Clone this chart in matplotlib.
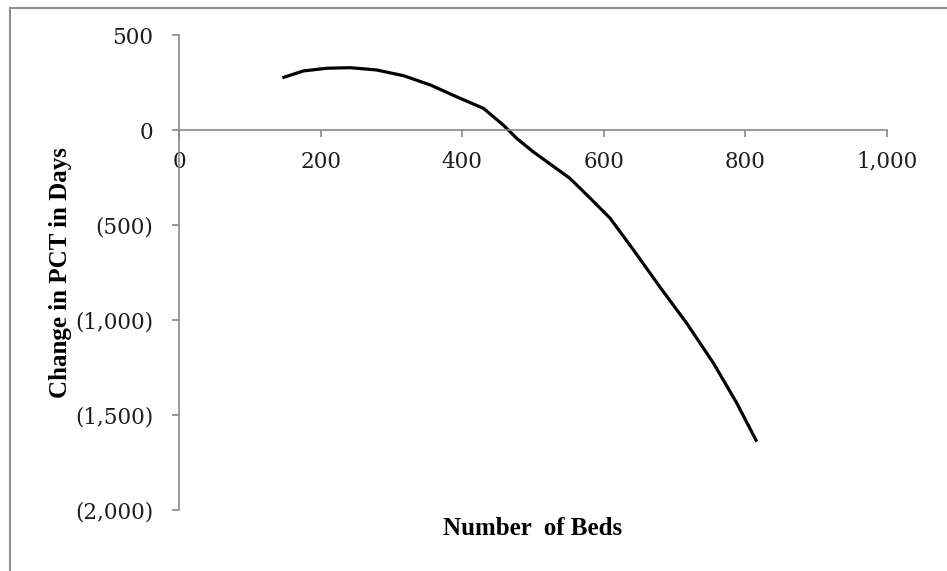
import matplotlib
matplotlib.use("Agg")
import matplotlib.pyplot as plt
from matplotlib.lines import Line2D
from matplotlib.ticker import FuncFormatter

# values
beds = [146, 176, 209, 242, 279, 317, 355, 392, 430, 458, 477, 500,
        552, 581, 609, 642, 679, 717, 755, 788, 816]
pct_change = [275, 311, 325, 328, 316, 286, 237, 175, 114, 26, -44, -114,
              -254, -360, -465, -632, -825, -1017, -1228, -1439, -1640]

x_ticks = [0, 200, 400, 600, 800, 1000]
y_ticks = [500, 0, -500, -1000, -1500, -2000]

plt.rcParams["font.family"] = ["Liberation Serif", "DejaVu Serif"]
AXIS_GREY = "#878787"
TEXT = "#1e1e1e"


def accounting(v, pos=None):
    if v < 0:
        return f"({abs(v):,.0f})"
    return f"{v:,.0f}"


fig = plt.figure(figsize=(9.47, 5.71), dpi=100)
ax = fig.add_axes([0.189, 0.1068, 0.7477, 0.8319])

ax.plot(beds, pct_change, color="black", lw=2.3, solid_capstyle="butt")

ax.set_xlim(0, 1000)
ax.set_ylim(-2000, 500)
ax.set_xticks(x_ticks)
ax.set_yticks(y_ticks)
ax.xaxis.set_major_formatter(FuncFormatter(accounting))
ax.yaxis.set_major_formatter(FuncFormatter(accounting))

for side in ("top", "right"):
    ax.spines[side].set_visible(False)
ax.spines["bottom"].set_position(("data", 0))
ax.spines["left"].set_position(("data", 0))
for side in ("bottom", "left"):
    ax.spines[side].set_color(AXIS_GREY)
    ax.spines[side].set_linewidth(1.2)

ax.tick_params(axis="x", direction="out", length=5, width=1.2, color=AXIS_GREY,
               labelcolor=TEXT, pad=10)
ax.tick_params(axis="y", direction="out", length=5, width=1.2, color=AXIS_GREY,
               labelcolor=TEXT, pad=13.5)
for lbl in ax.get_xticklabels() + ax.get_yticklabels():
    lbl.set_fontfamily("DejaVu Serif")
    lbl.set_fontsize(15.5)

ax.set_xlabel("Number  of Beds", fontsize=18, fontweight="bold", color="black")
ax.xaxis.set_label_coords(0.5, -0.015)
ax.set_ylabel("Change in PCT in Days", fontsize=18, fontweight="bold", color="black")
ax.yaxis.set_label_coords(-0.151, 0.5)

# chart-area border (left and top edges visible in the reference)
bx = 9.5 / 947
by = 1 - 7.5 / 571
fig.add_artist(Line2D([bx, bx], [0, by], transform=fig.transFigure, color="#8f8f8f", lw=1.5))
fig.add_artist(Line2D([bx, 1], [by, by], transform=fig.transFigure, color="#8f8f8f", lw=1.5))

fig.savefig("out.png", dpi=100)
plt.close(fig)
